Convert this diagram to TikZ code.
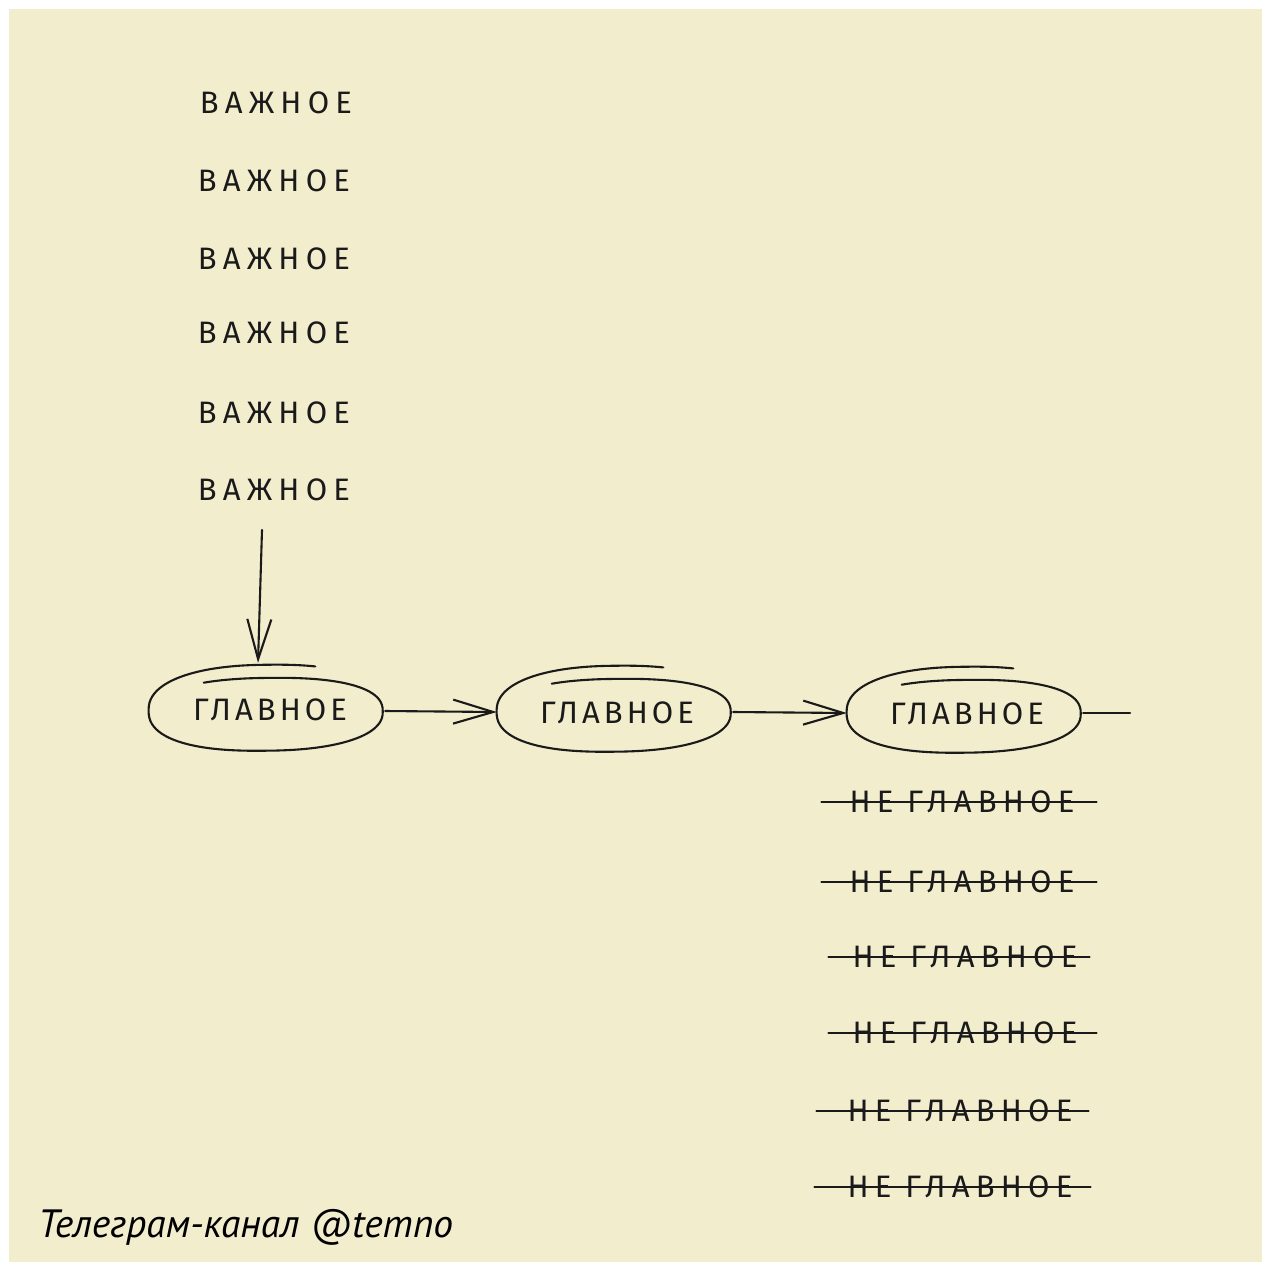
\documentclass[tikz,border=0pt]{standalone}
\usepackage{fontspec}
\usetikzlibrary{arrows.meta,shapes.geometric}
\newfontfamily\handfont[LetterSpace=20]{Fira Sans}
\newfontfamily\mainfont[LetterSpace=13]{Fira Sans}
\newfontfamily\wmfont{PT Sans}
\definecolor{cream}{HTML}{F2EDCC}
\definecolor{ink}{HTML}{1A1A1A}
\tikzset{
  hand/.style={font=\handfont\fontsize{31}{31}\selectfont, text=ink, inner sep=0pt, anchor=center},
  handmain/.style={hand, font=\mainfont\fontsize{31}{31}\selectfont},
  pen/.style={draw=ink, line width=2.1pt, line cap=round, line join=round},
  penarrow/.style={pen, -{Straight Barb[length=40pt,width=24pt,line width=2.1pt]}},
  oval/.style={ellipse, minimum width=236pt, minimum height=84pt, inner sep=0pt, draw=none},
}
\newcommand{\spiral}[2]{%
  \draw[pen] plot[domain=120:-290, samples=110, smooth]
    ({#1 + (114+6*(120-\x)/410)*(cos(\x)>=0 ? 1 : -1)*(abs(cos(\x))+0.0001)^0.85},
     {#2 - (32+15*(120-\x)/410)*(sin(\x)>=0 ? 1 : -1)*(abs(sin(\x))+0.0001)^0.85});}
\newcommand{\notmain}{НЕ\hspace{14pt}ГЛАВНОЕ}
\begin{document}
\begin{tikzpicture}[x=1pt,y=-1pt]
\useasboundingbox (0,0) rectangle (1265,1270);
\fill[white] (0,0) rectangle (1265,1270);
\fill[cream] (9,9) rectangle (1262,1262);

% important items
\node[hand] (v1) at (276,103) {ВАЖНОЕ};
\node[hand] (v2) at (274,181) {ВАЖНОЕ};
\node[hand] (v3) at (274,259) {ВАЖНОЕ};
\node[hand] (v4) at (274,333) {ВАЖНОЕ};
\node[hand] (v5) at (274,413) {ВАЖНОЕ};
\node[hand] (v6) at (274,490) {ВАЖНОЕ};

% main ovals
\node[oval] (g1) at (267,711) {};
\node[oval] (g2) at (615,712) {};
\node[oval] (g3) at (965,713) {};
\spiral{267}{711}
\spiral{615}{712}
\spiral{965}{713}
\node[handmain] (t1) at (270,710) {ГЛАВНОЕ};
\node[handmain] (t2) at (617,713) {ГЛАВНОЕ};
\node[handmain] (t3) at (967,714) {ГЛАВНОЕ};

% connectors
\coordinate (down) at (262,530);
\coordinate (tail) at (1130,713);
\draw[penarrow] (down) -- ([xshift=-9pt,yshift=6pt]g1.north);
\draw[penarrow] (g1.east) -- (g2.west);
\draw[penarrow] (g2.east) -- (g3.west);
\draw[pen] (g3.east) -- (tail);

% not main items, struck through
\node[hand] (n1) at (962,802) {\notmain};
\node[hand] (n2) at (962,882) {\notmain};
\node[hand] (n3) at (965,957) {\notmain};
\node[hand] (n4) at (965,1033) {\notmain};
\node[hand] (n5) at (960,1111) {\notmain};
\node[hand] (n6) at (960,1187) {\notmain};
\draw[pen] ([xshift=-28pt]n1.west) -- ([xshift=22pt]n1.east);
\draw[pen] ([xshift=-28pt]n2.west) -- ([xshift=22pt]n2.east);
\draw[pen] ([xshift=-24pt]n3.west) -- ([xshift=12pt]n3.east);
\draw[pen] ([xshift=-24pt]n4.west) -- ([xshift=19pt]n4.east);
\draw[pen] ([xshift=-31pt]n5.west) -- ([xshift=16pt]n5.east);
\draw[pen] ([xshift=-33pt]n6.west) -- ([xshift=18pt]n6.east);

% watermark
\node[font=\wmfont\itshape\fontsize{39.5}{40}\selectfont, text=black, anchor=base west, inner sep=0pt] (wm) at (38,1237) {Телеграм-канал @temno};
\end{tikzpicture}
\end{document}
